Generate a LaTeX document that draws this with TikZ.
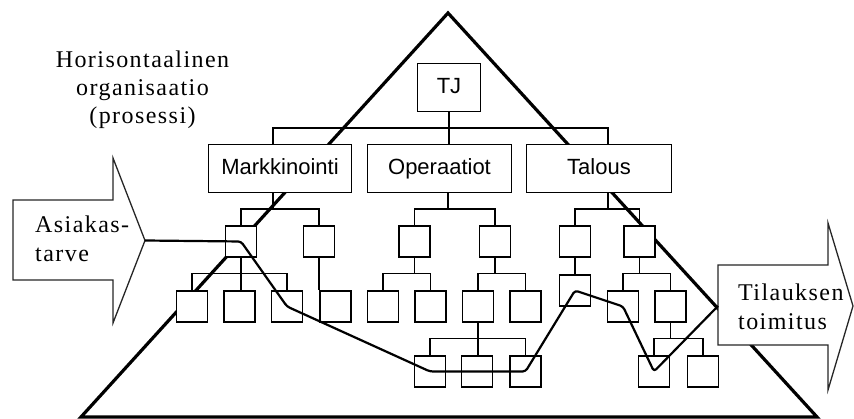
\documentclass[tikz,border=0pt]{standalone}
\usepackage{fontspec}
\setmainfont{Liberation Serif}
\setsansfont{Liberation Sans}
\newfontfamily\labelserif[LetterSpace=6]{Liberation Serif}
\pgfdeclarelayer{background}
\pgfsetlayers{background,main}
\begin{document}
\begin{tikzpicture}[x=1pt,y=-1pt,
  link/.style={line width=1.5pt, black},
  pyramid/.style={line width=3.2pt, line join=miter},
  process/.style={line width=2.2pt, rounded corners=3pt, line join=round},
  unit/.style={draw, fill=white, line width=1.5pt, minimum width=31pt,
    minimum height=31pt, inner sep=0pt},
  dept/.style={draw, fill=white, line width=1.5pt, inner sep=0pt,
    font=\sffamily\fontsize{22}{26}\selectfont, text height=16pt, text depth=3pt,
    minimum height=48pt},
  bigarrow/.style={draw=black!85, fill=white, line width=1.3pt, line join=miter},
  caption/.style={font=\labelserif\fontsize{24}{28}\selectfont, inner sep=0pt}]
\useasboundingbox (0,0) rectangle (854,419);

% management level
\node[dept, minimum width=63pt]  (tj) at (449,87.5)  {TJ};
\node[dept, minimum width=143pt] (mk) at (280,168.5) {Markkinointi};
\node[dept, minimum width=144pt] (op) at (439.5,168.5) {Operaatiot};
\node[dept, minimum width=145pt] (ta) at (599,168.5) {Talous};

% third level
\node[unit] (m1) at (241,241.5) {};
\node[unit] (m2) at (319,241.5) {};
\node[unit] (o1) at (414.5,241.5) {};
\node[unit] (o2) at (495,241.5) {};
\node[unit] (t1) at (575,241.5) {};
\node[unit] (t2) at (639.5,241.5) {};

% fourth level
\node[unit] (m11) at (192,306.5) {};
\node[unit] (m12) at (239.5,306.5) {};
\node[unit] (m13) at (287,306.5) {};
\node[unit] (m21) at (335.5,306.5) {};
\node[unit] (o11) at (383,306.5) {};
\node[unit] (o12) at (430.5,306.5) {};
\node[unit] (o21) at (478,306.5) {};
\node[unit] (o22) at (525.5,306.5) {};
\node[unit] (t11) at (575,290.5) {};
\node[unit] (t21) at (623,306.5) {};
\node[unit] (t22) at (670.5,306.5) {};

% fifth level
\node[unit] (o211) at (430,371.5) {};
\node[unit] (o212) at (477,371.5) {};
\node[unit] (o213) at (525.5,371.5) {};
\node[unit] (t221) at (654,371.5) {};
\node[unit] (t222) at (703,371.5) {};

\begin{pgfonlayer}{background}
  % reporting lines
  \draw[link] (tj.south) -- (tj.south |- op.north);
  \path (tj.south) ++(0,16) coordinate (topbus);
  \draw[link] ([xshift=-7pt]mk.north) |- (topbus) -| ([xshift=9pt]ta.north);

  \draw[link] ([xshift=-7pt]mk.south) -- ++(0,16) coordinate (mkbus);
  \draw[link] (m1.north) |- (mkbus) -| (m2.north);
  \draw[link] ([xshift=8.5pt]op.south) -- ++(0,16) coordinate (opbus);
  \draw[link] (o1.north) |- (opbus) -| (o2.north);
  \draw[link] ([xshift=9pt]ta.south) -- ++(0,16) coordinate (tabus);
  \draw[link] (t1.north) |- (tabus) -| (t2.north);

  \draw[link] (m1.south) -- ++(0,16) coordinate (m1bus);
  \draw[link] (m11.north) |- (m1bus) -| (m13.north);
  \draw[link] (m1bus) -- (m1bus |- m12.north);
  \draw[link] (m2.south) -- (m2.south |- m21.north);
  \draw[link] (o1.south) -- ++(0,16) coordinate (o1bus);
  \draw[link] (o11.north) |- (o1bus) -| (o12.north);
  \draw[link] (o2.south) -- ++(0,16) coordinate (o2bus);
  \draw[link] (o21.north) |- (o2bus) -| (o22.north);
  \draw[link] (t1.south) -- (t11.north);
  \draw[link] (t2.south) -- ++(0,16) coordinate (t2bus);
  \draw[link] (t21.north) |- (t2bus) -| (t22.north);

  \draw[link] (o21.south) -- ++(0,16) coordinate (o21bus);
  \draw[link] (o211.north) |- (o21bus) -| (o213.north);
  \draw[link] (o21bus) -- (o21bus |- o212.north);
  \draw[link] (t22.south) -- ++(0,16) coordinate (t22bus);
  \draw[link] (t221.north) |- (t22bus) -| (t222.north);

  % hierarchy pyramid
  \draw[pyramid] (448,13) -- (817,417) -- (81,417) -- cycle;
\end{pgfonlayer}

% customer need and order delivery arrows
\draw[bigarrow] (13,200) -- (113,200) -- (113,158) -- (145,240.5) -- (113,323)
  -- (113,280) -- (13,280) -- cycle;
\coordinate (need) at (145,240.5);
\draw[bigarrow] (718,265) -- (828,265) -- (828,223) -- (853,306) -- (828,390)
  -- (828,345) -- (718,345) -- cycle;
\coordinate (deliv) at (718,306);

% horizontal process across the units
\draw[process] (need) -- (m1.center) -- (m13.center) -- (o211.center)
  -- (o213.center) -- (t11.center) -- (t21.center) -- (t221.center) -- (deliv);

% texts
\node[caption, anchor=base] (h1) at (142.5,68) {Horisontaalinen};
\node[caption, anchor=base] (h2) at (142.5,96) {organisaatio};
\node[caption, anchor=base] (h3) at (142.5,124) {(prosessi)};
\node[caption, anchor=base west] (a1) at (35,233) {Asiakas-};
\node[caption, anchor=base west] (a2) at (35,262) {tarve};
\node[caption, anchor=base west] (d1) at (738,301) {Tilauksen};
\node[caption, anchor=base west] (d2) at (738,330) {toimitus};
\end{tikzpicture}
\end{document}
